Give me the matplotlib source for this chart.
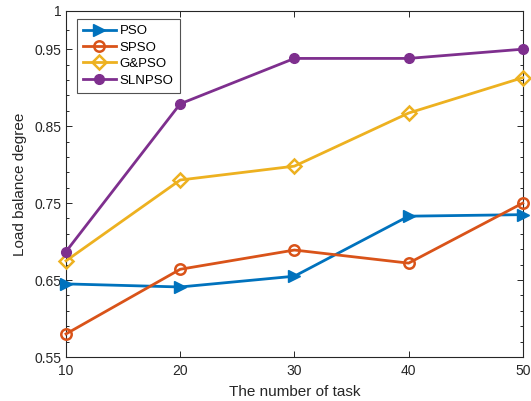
import matplotlib
matplotlib.use("Agg")
import matplotlib.pyplot as plt
from matplotlib.ticker import FixedLocator

plt.rcParams['font.family'] = ['Liberation Sans', 'DejaVu Sans']

tasks = [10, 20, 30, 40, 50]
pso = [0.645, 0.641, 0.655, 0.733, 0.735]
spso = [0.580, 0.664, 0.689, 0.672, 0.750]
gpso = [0.675, 0.780, 0.798, 0.867, 0.913]
slnpso = [0.687, 0.879, 0.938, 0.938, 0.950]

y_major = [0.55, 0.65, 0.75, 0.85, 0.95, 1.0]
y_labels = ['0.55', '0.65', '0.75', '0.85', '0.95', '1']
y_minor = [0.57, 0.59, 0.61, 0.63, 0.67, 0.69, 0.71, 0.73, 0.77, 0.79,
           0.81, 0.83, 0.87, 0.89, 0.91, 0.93, 0.975]

fig = plt.figure(figsize=(5.31, 4.01), dpi=100)
ax = fig.add_axes([0.1243, 0.1097, 0.8602, 0.8636])

lw = 2.0
ax.plot(tasks, pso, color='#0072BD', lw=lw, marker='>', ms=9,
        mfc='#0072BD', mec='#0072BD', label='PSO', clip_on=False, zorder=3)
ax.plot(tasks, spso, color='#D95319', lw=lw, marker='o', ms=7.5,
        mfc='none', mec='#D95319', mew=1.8, label='SPSO', clip_on=False, zorder=3)
ax.plot(tasks, gpso, color='#EDB120', lw=lw, marker='D', ms=7.5,
        mfc='none', mec='#EDB120', mew=1.8, label='G&PSO', clip_on=False, zorder=3)
ax.plot(tasks, slnpso, color='#7E2F8E', lw=lw, marker='o', ms=7,
        mfc='#7E2F8E', mec='#7E2F8E', label='SLNPSO', clip_on=False, zorder=3)

ax.set_xlim(10, 50)
ax.set_ylim(0.55, 1.0)
ax.set_xticks(tasks)
ax.set_yticks(y_major)
ax.set_yticklabels(y_labels)
ax.yaxis.set_minor_locator(FixedLocator(y_minor))

ax.tick_params(axis='both', which='both', direction='in', top=True, right=True,
               labelsize=10, colors='#262626', labelcolor='#262626', width=0.7)
ax.tick_params(axis='both', which='major', length=4)
ax.tick_params(axis='x', which='major', pad=5)
ax.tick_params(axis='y', which='minor', length=2.5)
for s in ax.spines.values():
    s.set_linewidth(0.8)
    s.set_color('#262626')

ax.set_xlabel('The number of task', fontsize=11, color='#262626', labelpad=5)
ax.set_ylabel('Load balance degree', fontsize=11, color='#262626', labelpad=5)

leg = ax.legend(loc='upper left', bbox_to_anchor=(0.024, 0.976), fontsize=9.5,
                frameon=True, fancybox=False, edgecolor='#262626',
                handlelength=2.5, handletextpad=0.3, borderpad=0.45,
                labelspacing=0.32, borderaxespad=0.0)
leg.get_frame().set_linewidth(0.8)

fig.savefig('out.png', dpi=100)
